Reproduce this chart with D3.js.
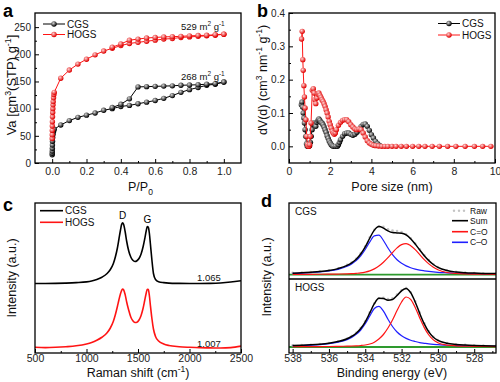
<!DOCTYPE html>
<html lang="en">
<head>
<meta charset="utf-8">
<title>CGS / HOGS characterisation</title>
<script src="https://cdn.jsdelivr.net/npm/d3@7"></script>
<style>
  body { margin: 0; background: #fff; }
  svg { display: block; font-family: "Liberation Sans", Arial, sans-serif; }
</style>
</head>
<body>
<div id="chart"></div>
<script>
////////////////////////////////////////////////// DATA
// (a) N2 isotherms, P/P0 vs Va
var cgsAdsP = [0.0002,0.0004,0.0007,0.001,0.0015,0.002,0.003,0.005,0.008,0.012,0.05,0.1,0.15,0.2,0.25,0.3,0.35,0.4,0.45,0.5,0.55,0.6,0.65,0.7,0.75,0.8,0.85,0.9,0.95,1.0];
var cgsAdsV = [15,18,22,27,33,40,47,53,58,62,70,78,84,88,92,97,100,104,106,109,112,115,119,124,130,135,139,143,145,149];
var cgsDesP = [1.0,0.95,0.9,0.85,0.8,0.75,0.7,0.65,0.6,0.55,0.5,0.45,0.4,0.35];
var cgsDesV = [149,146,145,144,143.5,143,142,141.5,141,140.5,140,118,108,102];
var hogsAdsP = [0.0002,0.0004,0.0007,0.001,0.0015,0.002,0.003,0.004,0.005,0.006,0.008,0.01,0.012,0.05,0.1,0.15,0.2,0.25,0.3,0.35,0.4,0.45,0.5,0.55,0.6,0.65,0.7,0.75,0.8,0.85,0.9,0.95,1.0];
var hogsAdsV = [45,52,60,68,76,85,93,100,107,113,120,126,130,156,171,182,191,199,206,211,216,220,222,224,226,228,229,231,232,233,234,235,237];
var hogsDesP = [1.0,0.95,0.9,0.85,0.8,0.75,0.7,0.65,0.6,0.55,0.5,0.45,0.4,0.35];
var hogsDesV = [237,236,235,234.5,234,233,232.5,232,231,230,228,226,219,213];

// (b) pore size distribution
var cgsPore = [0.6,0.63,0.66,0.69,0.72,0.75,0.78,0.81,0.85,0.88,0.92,0.96,1.0,1.04,1.08,1.12,1.16,1.2,1.25,1.3,1.35,1.4,1.45,1.5,1.55,1.6,1.65,1.7,1.75,1.8,1.85,1.9,1.95,2.0,2.05,2.1,2.15,2.25,2.35,2.4,2.45,2.5,2.6,2.7,2.8,2.9,3.0,3.1,3.2,3.3,3.4,3.5,3.6,3.7,3.8,3.9,4.0,4.1,4.2,4.3,4.4];
var cgsDV   = [0.125,0.133,0.118,0.1,0.085,0.07,0.05,0.03,0.008,0.001,0,0,0.002,0.012,0.03,0.05,0.065,0.07,0.065,0.06,0.072,0.078,0.082,0.078,0.072,0.07,0.065,0.058,0.05,0.042,0.032,0.024,0.016,0.01,0.005,0.002,0,0,0,0.005,0.012,0.02,0.03,0.038,0.04,0.04,0.036,0.033,0.036,0.042,0.05,0.06,0.066,0.067,0.06,0.048,0.035,0.025,0.015,0.008,0.003];
var hogsPore = [0.61,0.64,0.67,0.69,0.72,0.75,0.78,0.82,0.86,0.9,0.93,0.97,1.0,1.03,1.07,1.13,1.18,1.22,1.26,1.3,1.35,1.4,1.45,1.5,1.55,1.6,1.65,1.7,1.75,1.8,1.85,1.9,1.95,2.0,2.05,2.1,2.15,2.2,2.25,2.3,2.4,2.5,2.6,2.7,2.8,2.9,3.0,3.1,3.2,3.3,3.4,3.5,3.6,3.7,3.8,3.9,4.0,4.1,4.2,4.35,4.5,4.65,4.8,5.0,5.2,5.45,5.7,6.0,6.3,6.6,6.95,7.3,7.7,8.1,8.55,9.0,9.4,9.8];
var hogsDV   = [0.322,0.345,0.26,0.228,0.182,0.148,0.115,0.08,0.03,0.005,0,0,0.005,0.03,0.07,0.168,0.173,0.16,0.14,0.128,0.145,0.157,0.16,0.153,0.147,0.14,0.135,0.128,0.12,0.11,0.1,0.088,0.075,0.065,0.055,0.045,0.04,0.036,0.04,0.05,0.063,0.072,0.078,0.08,0.08,0.074,0.065,0.058,0.052,0.05,0.052,0.05,0.04,0.028,0.017,0.01,0.006,0.003,0.002,0.001,0,0,0,0,0,0,0,0,0,0,0,0,0,0,0,0,0,0];

// (c) Raman spectra (stacked, a.u.)
var ramanShift = [500,600,700,800,900,1000,1050,1100,1150,1200,1230,1260,1280,1300,1315,1330,1340,1350,1360,1375,1390,1410,1430,1450,1470,1490,1510,1530,1550,1565,1580,1590,1600,1610,1620,1635,1650,1670,1700,1750,1800,1900,2000,2100,2200,2300,2400,2500];
var cgsRaman  = [46.3,46.3,46.4,46.6,46.9,47.4,48,49,50.5,53,55.5,59.5,64,70,76,82,85.5,86.8,85.8,81,74.5,68,64,61.8,61,61.5,63,66,71,76,81.5,84.3,83.8,80,73,62,53,49,47.5,46.9,46.6,46.4,46.3,46.3,46.4,46.7,47.3,48.2];
var hogsRaman = [3.8,3.6,3.8,4.2,4.8,6,7,8.5,10.5,13.5,16.5,21,25.5,31,35.5,39.5,41.5,42.7,42.2,39,34,28.5,24,21.5,20.3,20.5,22,25,30,35,40,42.5,42.3,38.5,32,23,16,11,8,6,5,4.2,3.8,3.5,3.4,3.3,3.6,4.6];
var ramanRatio = ["1.065", "1.007"];

// (d) O 1s XPS
var bindE = [538,537.5,537,536.5,536,535.5,535,534.75,534.5,534.25,534,533.75,533.5,533.25,533,532.75,532.5,532.25,532,531.75,531.5,531.25,531,530.75,530.5,530.25,530,529.5,529,528.5,528,527.5,526.8];
var cgsRaw  = [1.8,2.1,2.6,3.5,4.5,6.3,9.8,12.2,16,21.5,28.5,37.5,45,48.5,47.8,45.5,44.2,43.6,42.6,40.4,36.4,31.2,25.4,19.5,14.6,10.5,7.6,4.4,2.9,2.2,1.7,1.4,1.2];
var cgsSum  = [1.55,1.9,2.45,3.1,4.2,6.1,9.3,11.9,15.5,20.7,27.8,36.7,44.6,48.1,46.6,43.8,42.1,41.8,41.5,39.8,36,30.7,24.7,19,14.1,10.2,7.3,4.1,2.7,2,1.6,1.3,1.1];
var cgsCdO  = [0.25,0.29,0.35,0.43,0.53,0.67,0.9,1.1,1.4,1.8,2.6,3.85,5.8,8.6,12.4,17.1,22.1,26.8,30.1,31,29,25.1,20.1,15.1,10.8,7.4,4.9,2.2,1.2,0.83,0.64,0.5,0.38];
var cgsCsO  = [1.3,1.6,2.1,2.7,3.7,5.4,8.4,10.8,14.1,18.9,25.2,32.8,38.8,39.5,34.2,26.7,20,15,11.4,8.8,7,5.6,4.6,3.9,3.3,2.8,2.4,1.9,1.5,1.2,1,0.8,0.7];
var hogsRaw = [1.6,1.9,2.3,3.0,4.0,5.7,8.5,10.9,14.2,19,25.8,34.8,43.8,48.8,49.2,48,48.8,52.4,56.8,58.9,54.8,45.8,34.4,23.8,15.6,10.2,6.9,3.9,2.7,2.1,1.7,1.4,1.15];
var hogsSum = [1.4,1.71,2.16,2.81,3.8,5.44,8.25,10.55,13.8,18.5,25.2,34.1,43.3,48.7,48.4,46.8,47.5,51.5,56.2,58.6,54.3,45,33.5,23.1,15.05,9.7,6.55,3.67,2.58,1.98,1.58,1.29,1.0];
var hogsCdO = [0.24,0.28,0.33,0.41,0.5,0.64,0.85,1.0,1.2,1.5,2.0,3.0,4.8,8,12.5,19,27,36.5,45,50,47.6,39.5,29.1,19.4,12,7.1,4.25,1.94,1.21,0.88,0.67,0.52,0.39];
var hogsCsO = [1.16,1.43,1.83,2.4,3.3,4.8,7.4,9.55,12.6,17,23.2,31.1,38.5,40.7,35.9,27.8,20.5,15,11.2,8.6,6.7,5.5,4.4,3.7,3.05,2.6,2.3,1.73,1.37,1.1,0.91,0.77,0.61];

var RED = "#ff1414", BLUE = "#1f1fff", GREEN = "#2e9a2e", RAW = "#c4c4c4";

////////////////////////////////////////////////// SETUP
var svg = d3.select("#chart").append("svg")
    .attr("width", 500)
    .attr("height", 382);

var defs = svg.append("defs");
function ball(id, hi, lo) {
  var g = defs.append("radialGradient").attr("id", id)
      .attr("cx", "38%").attr("cy", "35%").attr("r", "62%");
  g.append("stop").attr("offset", "0%").attr("stop-color", hi);
  g.append("stop").attr("offset", "100%").attr("stop-color", lo);
}
ball("ballK", "#d8d8d8", "#000");
ball("ballR", "#ffd4d4", "#e00000");

var clipN = 0;
function clip(x0, y0, x1, y1) {
  var id = "clip" + (clipN++);
  defs.append("clipPath").attr("id", id).append("rect")
      .attr("x", x0).attr("y", y0).attr("width", x1 - x0).attr("height", y1 - y0);
  return svg.append("g").attr("clip-path", "url(#" + id + ")");
}

function frame(x0, y0, x1, y1) {
  svg.append("rect").attr("x", x0).attr("y", y0)
      .attr("width", x1 - x0).attr("height", y1 - y0)
      .attr("fill", "none").attr("stroke", "#000").attr("stroke-width", 1.3);
}

function xAxis(scale, y, major, minor, fmt, pad) {
  var g = svg.append("g").attr("transform", "translate(0," + y + ")");
  g.call(d3.axisBottom(scale).tickValues(major).tickSize(-4).tickPadding(pad).tickFormat(fmt));
  g.append("g").call(d3.axisBottom(scale).tickValues(minor).tickSize(-2).tickFormat(""));
  g.selectAll(".domain").remove();
  g.selectAll("text").attr("font-size", 10.5).attr("font-family", null).attr("fill", "#222");
}

function yAxis(scale, x, major, minor, fmt) {
  var g = svg.append("g").attr("transform", "translate(" + x + ",0)");
  g.call(d3.axisLeft(scale).tickValues(major).tickSize(-4).tickPadding(4).tickFormat(fmt));
  g.append("g").call(d3.axisLeft(scale).tickValues(minor).tickSize(-2).tickFormat(""));
  g.selectAll(".domain").remove();
  g.selectAll("text").attr("font-size", 10).attr("font-family", null).attr("fill", "#222");
}

// text with super/subscripts: parts = [[str, "sup"|"sub"|null], ...]
function rich(x, y, parts, size, anchor, rotate) {
  var t = svg.append("text")
      .attr("transform", "translate(" + x + "," + y + ")" + (rotate ? " rotate(-90)" : ""))
      .attr("text-anchor", anchor || "start")
      .attr("font-size", size).attr("fill", "#111");
  var shift = 0;
  parts.forEach(function(p) {
    var s = p[1] === "sup" ? -0.42 * size : p[1] === "sub" ? 0.3 * size : 0;
    t.append("tspan").attr("dy", s - shift)
        .attr("font-size", p[1] ? size * 0.68 : size).text(p[0]);
    shift = s;
  });
  return t;
}

function letter(x, y, s) {
  svg.append("text").attr("x", x).attr("y", y).attr("font-size", 18)
      .attr("font-weight", "bold").text(s);
}

function series(g, xs, ys, sx, sy, color, fill) {
  var pts = xs.map(function(v, i) { return [sx(v), sy(ys[i])]; });
  g.append("path").attr("d", d3.line()(pts))
      .attr("fill", "none").attr("stroke", color).attr("stroke-width", 1);
  g.append("g").selectAll("circle").data(pts).join("circle")
      .attr("cx", function(d) { return d[0]; })
      .attr("cy", function(d) { return d[1]; })
      .attr("r", 2.7).attr("fill", fill);
}

function legendItem(x0, x1, y, color, fill, label, size) {
  svg.append("line").attr("x1", x0).attr("x2", x1).attr("y1", y).attr("y2", y)
      .attr("stroke", color).attr("stroke-width", fill ? 1 : 1.6);
  if (fill) svg.append("circle").attr("cx", (x0 + x1) / 2).attr("cy", y).attr("r", 2.7).attr("fill", fill);
  svg.append("text").attr("x", x1 + 2).attr("y", y + size * 0.36)
      .attr("font-size", size).attr("fill", "#111").text(label);
}

////////////////////////////////////////////////// PANEL A
(function() {
  var x = d3.scaleLinear().domain([-0.1, 1.1]).range([35, 241]);
  var y = d3.scaleLinear().domain([0, 276]).range([163, 13]);
  var g = clip(35, 13, 241, 163);
  series(g, cgsAdsP, cgsAdsV, x, y, "#000", "url(#ballK)");
  series(g, cgsDesP, cgsDesV, x, y, "#000", "url(#ballK)");
  series(g, hogsAdsP, hogsAdsV, x, y, RED, "url(#ballR)");
  series(g, hogsDesP, hogsDesV, x, y, RED, "url(#ballR)");
  xAxis(x, 163, [0, 0.2, 0.4, 0.6, 0.8, 1.0], [0.1, 0.3, 0.5, 0.7, 0.9], d3.format(".1f"), 5);
  yAxis(y, 35, [0, 50, 100, 150, 200, 250], [25, 75, 125, 175, 225], d3.format("d"));
  frame(35, 13, 241, 163);
  legendItem(43, 65, 24, "#000", "url(#ballK)", "CGS", 10);
  legendItem(43, 65, 34.5, RED, "url(#ballR)", "HOGS", 10);
  rich(181, 29.5, [["529 m", null], ["2", "sup"], [" g", null], ["-1", "sup"]], 9.5);
  rich(181, 80, [["268 m", null], ["2", "sup"], [" g", null], ["-1", "sup"]], 9.5);
  rich(16, 85, [["Va [cm", null], ["3", "sup"], ["(STP) g", null], ["-1", "sup"], ["]", null]], 13, "middle", true);
  rich(128, 191, [["P/P", null], ["0", "sub"]], 12.5);
  letter(3, 17, "a");
})();

////////////////////////////////////////////////// PANEL B
(function() {
  var x = d3.scaleLinear().domain([0, 10]).range([289, 495]);
  var y = d3.scaleLinear().domain([-0.05, 0.4]).range([163, 13]);
  var g = clip(289, 13, 495, 163);
  series(g, cgsPore, cgsDV, x, y, "#000", "url(#ballK)");
  series(g, hogsPore, hogsDV, x, y, RED, "url(#ballR)");
  xAxis(x, 163, [0, 2, 4, 6, 8, 10], [1, 3, 5, 7, 9], d3.format("d"), 5);
  yAxis(y, 289, [0, 0.1, 0.2, 0.3, 0.4], [0.05, 0.15, 0.25, 0.35], d3.format(".1f"));
  frame(289, 13, 495, 163);
  legendItem(438, 460, 23.5, "#000", "url(#ballK)", "CGS", 10);
  legendItem(438, 460, 35, RED, "url(#ballR)", "HOGS", 10);
  rich(267, 80, [["dV(d) (cm", null], ["3", "sup"], [" nm", null], ["-1", "sup"], [" g", null], ["-1", "sup"], [")", null]], 12.5, "middle", true);
  svg.append("text").attr("x", 392).attr("y", 191).attr("text-anchor", "middle")
      .attr("font-size", 12.5).attr("fill", "#111").text("Pore size (nm)");
  letter(257, 17, "b");
})();

////////////////////////////////////////////////// PANEL C
(function() {
  var x = d3.scaleLinear().domain([500, 2500]).range([35, 241]);
  var y = d3.scaleLinear().domain([0, 100]).range([353, 203]);
  var g = clip(35, 203, 241, 353);
  var line = d3.line().curve(d3.curveMonotoneX)
      .x(function(d, i) { return x(ramanShift[i]); })
      .y(function(d) { return y(d); });
  g.append("path").attr("d", line(cgsRaman)).attr("fill", "none").attr("stroke", "#000").attr("stroke-width", 1.6);
  g.append("path").attr("d", line(hogsRaman)).attr("fill", "none").attr("stroke", RED).attr("stroke-width", 1.6);
  xAxis(x, 353, [500, 1000, 1500, 2000, 2500], [750, 1250, 1750, 2250], d3.format("d"), 1.5);
  frame(35, 203, 241, 353);
  legendItem(40, 63, 210.7, "#000", null, "CGS", 10);
  legendItem(40, 63, 222.3, RED, null, "HOGS", 10);
  svg.append("text").attr("x", 122.5).attr("y", 219).attr("text-anchor", "middle").attr("font-size", 10).text("D");
  svg.append("text").attr("x", 147.5).attr("y", 223).attr("text-anchor", "middle").attr("font-size", 10).text("G");
  svg.append("text").attr("x", 197).attr("y", 281).attr("font-size", 9.5).attr("fill", "#111").text(ramanRatio[0]);
  svg.append("text").attr("x", 197).attr("y", 347).attr("font-size", 9.5).attr("fill", "#111").text(ramanRatio[1]);
  rich(16, 278, [["Intensity (a.u.)", null]], 12.5, "middle", true);
  rich(138, 377, [["Raman shift (cm", null], ["-1", "sup"], [")", null]], 12.5, "middle");
  letter(3, 211, "c");
})();

////////////////////////////////////////////////// PANEL D
(function() {
  var x = d3.scaleLinear().domain([538.2, 526.8]).range([289, 496]);
  var subs = [
    { y: d3.scaleLinear().domain([-4.3, 71.7]).range([279, 203]), raw: cgsRaw, sum: cgsSum, cdo: cgsCdO, cso: cgsCsO, name: "CGS", top: 203, bot: 279 },
    { y: d3.scaleLinear().domain([-6, 68]).range([353, 279]), raw: hogsRaw, sum: hogsSum, cdo: hogsCdO, cso: hogsCsO, name: "HOGS", top: 279, bot: 353 }
  ];
  subs.forEach(function(s) {
    var g = clip(289, s.top, 496, s.bot);
    var line = d3.line().curve(d3.curveMonotoneX)
        .x(function(d, i) { return x(bindE[i]); })
        .y(function(d) { return s.y(d); });
    g.append("line").attr("x1", 289).attr("x2", 496).attr("y1", s.y(0)).attr("y2", s.y(0))
        .attr("stroke", GREEN).attr("stroke-width", 1.8);
    g.append("g").selectAll("circle").data(s.raw).join("circle")
        .attr("cx", function(d, i) { return x(bindE[i]); })
        .attr("cy", function(d) { return s.y(d); })
        .attr("r", 1.3).attr("fill", RAW);
    g.append("path").attr("d", line(s.cso)).attr("fill", "none").attr("stroke", BLUE).attr("stroke-width", 1.2);
    g.append("path").attr("d", line(s.cdo)).attr("fill", "none").attr("stroke", RED).attr("stroke-width", 1.2);
    g.append("path").attr("d", line(s.sum)).attr("fill", "none").attr("stroke", "#000").attr("stroke-width", 1.5);
    svg.append("text").attr("x", 295).attr("y", s.top + 12).attr("font-size", 10).attr("fill", "#111").text(s.name);
  });
  xAxis(x, 353, [538, 536, 534, 532, 530, 528], [537, 535, 533, 531, 529, 527], d3.format("d"), 1.5);
  frame(289, 203, 496, 353);
  svg.append("line").attr("x1", 289).attr("x2", 496).attr("y1", 279).attr("y2", 279)
      .attr("stroke", "#000").attr("stroke-width", 1.3);
  [454, 459, 464].forEach(function(cx) {
    svg.append("circle").attr("cx", cx).attr("cy", 210.7).attr("r", 1.2).attr("fill", RAW);
  });
  svg.append("text").attr("x", 470).attr("y", 213.5).attr("font-size", 8.5).attr("fill", "#111").text("Raw");
  legendItem(452, 468, 220.7, "#000", null, "Sum", 8.5);
  legendItem(452, 468, 231.7, RED, null, "C=O", 8.5);
  legendItem(452, 468, 242.3, BLUE, null, "C\u2013O", 8.5);
  rich(271, 277, [["Intensity (a.u.)", null]], 12.5, "middle", true);
  svg.append("text").attr("x", 392).attr("y", 377).attr("text-anchor", "middle")
      .attr("font-size", 12.5).attr("fill", "#111").text("Binding energy (eV)");
  letter(261, 207, "d");
})();
</script>
</body>
</html>
